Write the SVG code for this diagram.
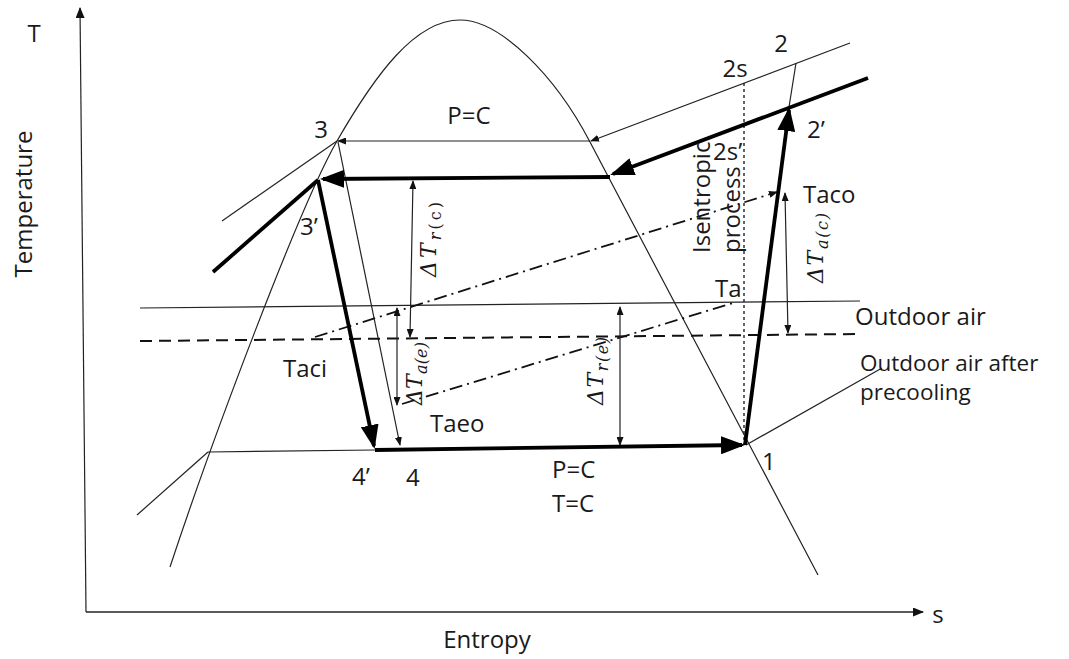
<svg xmlns="http://www.w3.org/2000/svg" width="1069" height="659" viewBox="0 0 1069 659">
<style>
.thin{stroke:#222;stroke-width:1.2;fill:none}
.thick{stroke:#000;stroke-width:3.8;fill:none}
.dashdot{stroke:#111;stroke-width:1.8;fill:none;stroke-dasharray:13 5 2 5}
.dashed{stroke:#111;stroke-width:2;fill:none;stroke-dasharray:12 7}
.dotted{stroke:#111;stroke-width:1.3;fill:none;stroke-dasharray:3 3}
.lbl{font-family:'Open Sans','Liberation Sans',sans-serif;font-size:24px;fill:#1a1a1a}
.math{font-family:'DejaVu Serif','Liberation Serif',serif;font-style:italic;font-size:22px;fill:#1a1a1a}
.sub{font-size:16px}
</style>
<defs>
<marker id="big" viewBox="0 0 24 18" markerWidth="24" markerHeight="18" refX="21" refY="9" orient="auto" markerUnits="userSpaceOnUse"><path d="M0,0 L24,9 L0,18 z" fill="#000"/></marker>
<marker id="sm" viewBox="0 0 9 7" markerWidth="9" markerHeight="7" refX="8" refY="3.5" orient="auto-start-reverse" markerUnits="userSpaceOnUse"><path d="M0,0 L9,3.5 L0,7 z" fill="#111"/></marker>
<marker id="ax" viewBox="0 0 11 9" markerWidth="11" markerHeight="9" refX="10" refY="4.5" orient="auto" markerUnits="userSpaceOnUse"><path d="M0,0 L11,4.5 L0,9 z" fill="#111"/></marker>
</defs>

<g id="axes">
<line class="thin" x1="86" y1="612" x2="80" y2="8" marker-end="url(#ax)"/>
<line class="thin" x1="86" y1="612" x2="923" y2="612" marker-end="url(#ax)" style="stroke-width:1.6"/>
</g>

<g id="dome">
<path class="thin" d="M170,567 C212,440 300,205 337,141 C375,75 415,20 460,20 C500,20 555,75 590,142 L818,575"/>
</g>

<g id="connectors">
<line class="thin" x1="850" y1="43" x2="591" y2="141" marker-end="url(#sm)"/>
<line class="thin" x1="590" y1="141" x2="338" y2="141" marker-end="url(#sm)"/>
<line class="thin" x1="337" y1="141" x2="222" y2="221"/>
<line class="thin" x1="338" y1="142" x2="400" y2="445" marker-end="url(#sm)"/>
<line class="thin" x1="208" y1="452" x2="375" y2="450"/>
<line class="thin" x1="208" y1="452" x2="137" y2="515"/>
<line class="thin" x1="789" y1="107" x2="796" y2="63"/>
<line class="thin" x1="746" y1="445" x2="882" y2="368"/>
<line class="thin" x1="140" y1="308" x2="860" y2="301"/>
<line class="dashed" x1="140" y1="341" x2="860" y2="334"/>
<line class="dotted" x1="744" y1="83" x2="744" y2="445"/>
<line class="dashdot" x1="315" y1="337" x2="777" y2="192" marker-end="url(#sm)"/>
<line class="dashdot" x1="402" y1="404" x2="733" y2="303"/>
<line class="thin" x1="413" y1="181" x2="410" y2="337" marker-start="url(#sm)" marker-end="url(#sm)"/>
<line class="thin" x1="397" y1="308" x2="397" y2="405" marker-start="url(#sm)" marker-end="url(#sm)"/>
<line class="thin" x1="620" y1="307" x2="620" y2="445" marker-start="url(#sm)" marker-end="url(#sm)"/>
<line class="thin" x1="785" y1="193" x2="788" y2="333" marker-start="url(#sm)" marker-end="url(#sm)"/>
<line class="thick" x1="213" y1="272" x2="318" y2="180"/>
<line class="thick" x1="868" y1="78" x2="613" y2="174" marker-end="url(#big)"/>
<line class="thick" x1="610" y1="177" x2="323" y2="179" marker-end="url(#big)"/>
<line class="thick" x1="318" y1="180" x2="374" y2="446" marker-end="url(#big)"/>
<line class="thick" x1="375" y1="450" x2="742" y2="445" marker-end="url(#big)"/>
<line class="thick" x1="745" y1="445" x2="789" y2="110" marker-end="url(#big)"/>
</g>

<g id="labels">
<text class="lbl" x="34" y="42" text-anchor="middle">T</text>
<text class="lbl" transform="translate(32,204) rotate(-90)" text-anchor="middle">Temperature</text>
<text class="lbl" x="487" y="648" text-anchor="middle">Entropy</text>
<text class="lbl" x="938" y="623" text-anchor="middle">s</text>
<text class="lbl" x="321" y="138" text-anchor="middle">3</text>
<text class="lbl" x="300" y="235">3’</text>
<text class="lbl" x="469" y="124" text-anchor="middle">P=C</text>
<text class="lbl" x="781" y="52" text-anchor="middle">2</text>
<text class="lbl" x="735" y="77" text-anchor="middle">2s</text>
<text class="lbl" x="807" y="138">2’</text>
<text class="lbl" x="713" y="160">2s’</text>
<text class="lbl" transform="translate(710,253) rotate(-90)">Isentropic</text>
<text class="lbl" transform="translate(740,253) rotate(-90)">process</text>
<text class="lbl" x="803" y="203">Taco</text>
<text class="lbl" x="715" y="297">Ta</text>
<text class="lbl" x="855" y="325">Outdoor air</text>
<text class="lbl" x="860" y="371" style="font-size:22.5px">Outdoor air after</text>
<text class="lbl" x="860" y="400" style="font-size:22.5px">precooling</text>
<text class="lbl" x="283" y="377">Taci</text>
<text class="lbl" x="430" y="432">Taeo</text>
<text class="lbl" x="352" y="485">4’</text>
<text class="lbl" x="406" y="486">4</text>
<text class="lbl" x="552" y="478">P=C</text>
<text class="lbl" x="552" y="512">T=C</text>
<text class="lbl" x="762" y="470">1</text>
<text class="math" transform="translate(436,277) rotate(-90)" textLength="75" lengthAdjust="spacing">ΔT<tspan class="sub" dy="5">r</tspan><tspan class="sub" font-style="normal">(c)</tspan></text>
<text class="math" transform="translate(422,405) rotate(-90)" textLength="63" lengthAdjust="spacing">ΔT<tspan class="sub" dy="5">a(e)</tspan></text>
<text class="math" transform="translate(603,405) rotate(-90)" textLength="68" lengthAdjust="spacing">ΔT<tspan class="sub" dy="5">r</tspan><tspan class="sub">(e)</tspan></text>
<text class="math" transform="translate(823,283) rotate(-90)" textLength="70" lengthAdjust="spacing">ΔT<tspan class="sub" dy="5">a(c)</tspan></text>
</g>
</svg>
